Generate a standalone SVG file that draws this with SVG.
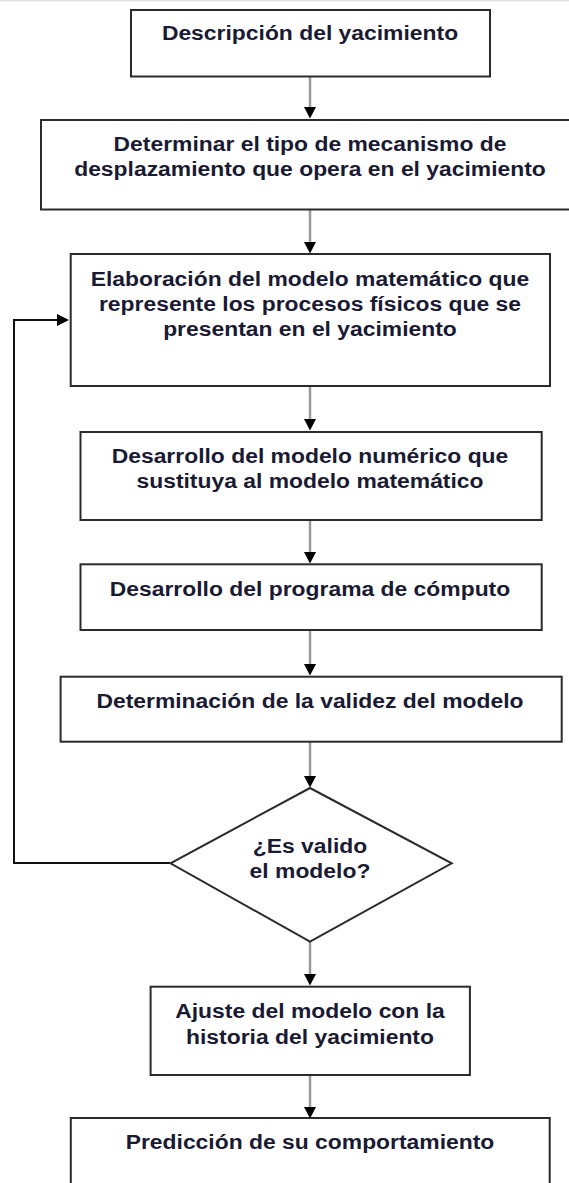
<svg xmlns="http://www.w3.org/2000/svg" width="569" height="1183" viewBox="0 0 569 1183">
<style>
.box{fill:#fff;stroke:#2b2b2b;stroke-width:2}
.t{font-family:"Liberation Sans",Arial,sans-serif;font-weight:bold;font-size:21px;fill:#1a1a33;text-anchor:middle}
.c{fill:none;stroke:#9a9a9a;stroke-width:2.5}
.fb{fill:none;stroke:#111;stroke-width:2}
</style>
<defs>
<marker id="ah" markerUnits="userSpaceOnUse" markerWidth="12" markerHeight="12" refX="0" refY="6" orient="auto">
<path d="M0,0 L11.5,6 L0,12 z" fill="#000"/>
</marker>
<marker id="ahb" markerUnits="userSpaceOnUse" markerWidth="13" markerHeight="12" refX="0" refY="6" orient="auto">
<path d="M0,0 L12,6 L0,12 z" fill="#000"/>
</marker>
</defs>
<rect x="0" y="0" width="569" height="1.5" fill="#e2e2e2"/>
<g id="connectors">
<line class="c" x1="310" y1="77" x2="310" y2="107" marker-end="url(#ah)"/>
<line class="c" x1="310" y1="210" x2="310" y2="242" marker-end="url(#ah)"/>
<line class="c" x1="310" y1="386" x2="310" y2="419" marker-end="url(#ah)"/>
<line class="c" x1="310" y1="520" x2="310" y2="552" marker-end="url(#ah)"/>
<line class="c" x1="310" y1="630" x2="310" y2="664" marker-end="url(#ah)"/>
<line class="c" x1="310" y1="742" x2="310" y2="776" marker-end="url(#ah)"/>
<line class="c" x1="310" y1="942" x2="310" y2="974" marker-end="url(#ah)"/>
<line class="c" x1="310" y1="1075" x2="310" y2="1107" marker-end="url(#ah)"/>
<polyline class="fb" points="170.5,863 14,863 14,320 57,320" marker-end="url(#ahb)"/>
</g>
<g id="n1">
<rect class="box" x="131" y="10" width="359" height="66.5"/>
<text class="t" x="310" y="40.5" transform="matrix(1.09 0 0 1 -27.9 0)">Descripción del yacimiento</text>
</g>
<g id="n2">
<rect class="box" x="41" y="120" width="545" height="89.5"/>
<text class="t" x="310" y="151.5" transform="matrix(1.09 0 0 1 -27.9 0)">Determinar el tipo de mecanismo de</text>
<text class="t" x="310" y="176.5" transform="matrix(1.09 0 0 1 -27.9 0)">desplazamiento que opera en el yacimiento</text>
</g>
<g id="n3">
<rect class="box" x="70.7" y="254" width="479.3" height="132"/>
<text class="t" x="310" y="286" transform="matrix(1.09 0 0 1 -27.9 0)">Elaboración del modelo matemático que</text>
<text class="t" x="310" y="311" transform="matrix(1.09 0 0 1 -27.9 0)">represente los procesos físicos que se</text>
<text class="t" x="310" y="336" transform="matrix(1.09 0 0 1 -27.9 0)">presentan en el yacimiento</text>
</g>
<g id="n4">
<rect class="box" x="80.5" y="432" width="461.2" height="88"/>
<text class="t" x="310" y="463" transform="matrix(1.09 0 0 1 -27.9 0)">Desarrollo del modelo numérico que</text>
<text class="t" x="310" y="488.5" transform="matrix(1.09 0 0 1 -27.9 0)">sustituya al modelo matemático</text>
</g>
<g id="n5">
<rect class="box" x="80.5" y="564.3" width="461.2" height="65.7"/>
<text class="t" x="310" y="596" transform="matrix(1.09 0 0 1 -27.9 0)">Desarrollo del programa de cómputo</text>
</g>
<g id="n6">
<rect class="box" x="60.6" y="676.7" width="501.1" height="65"/>
<text class="t" x="310" y="707.7" transform="matrix(1.09 0 0 1 -27.9 0)">Determinación de la validez del modelo</text>
</g>
<g id="n7">
<polygon class="box" points="310,788 451.7,863.3 310,941.7 170.5,863.3"/>
<text class="t" x="310" y="852.7" transform="matrix(1.09 0 0 1 -27.9 0)">¿Es valido</text>
<text class="t" x="310" y="878" transform="matrix(1.09 0 0 1 -27.9 0)">el modelo?</text>
</g>
<g id="n8">
<rect class="box" x="150.6" y="986.7" width="319.3" height="88.3"/>
<text class="t" x="310" y="1017.7" transform="matrix(1.09 0 0 1 -27.9 0)">Ajuste del modelo con la</text>
<text class="t" x="310" y="1044" transform="matrix(1.09 0 0 1 -27.9 0)">historia del yacimiento</text>
</g>
<g id="n9">
<rect class="box" x="70.8" y="1118" width="478.9" height="80"/>
<text class="t" x="310" y="1149" transform="matrix(1.09 0 0 1 -27.9 0)">Predicción de su comportamiento</text>
</g>
</svg>
